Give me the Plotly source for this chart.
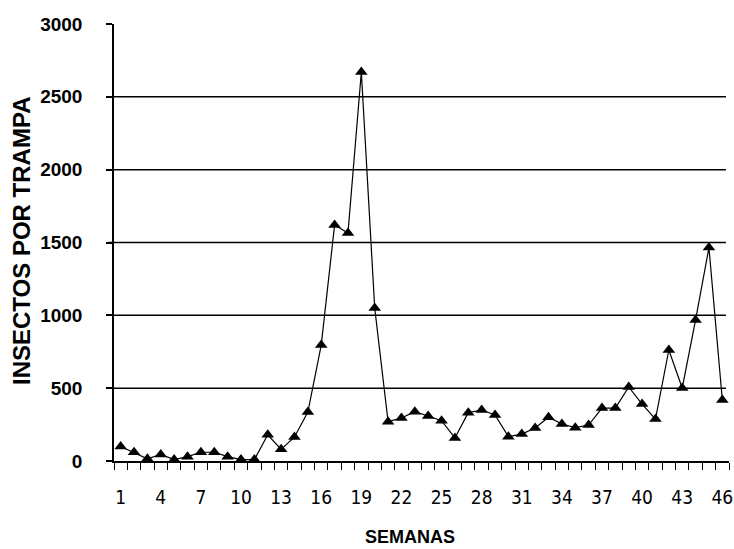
import plotly.graph_objects as go

semanas = list(range(1, 47))
insectos = [100, 60, 15, 45, 10, 30, 60, 60, 30, 10,
            10, 180, 80, 165, 336, 796, 1620, 1565, 2670, 1050,
            270, 295, 338, 309, 277, 158, 332, 350, 316, 167,
            185, 226, 300, 254, 229, 247, 363, 363, 508, 391,
            288, 762, 501, 968, 1465, 419]
x_ticks = list(range(1, 47, 3))
y_ticks = [0, 500, 1000, 1500, 2000, 2500, 3000]
grid_vals = [500, 1000, 1500, 2000, 2500]

fig = go.Figure()
fig.add_trace(go.Scatter(
    x=semanas, y=insectos, mode="lines+markers",
    line=dict(color="black", width=1.2),
    marker=dict(symbol="triangle-up", size=11, color="black"),
    showlegend=False, cliponaxis=False,
))

for g in grid_vals:
    fig.add_shape(type="line", xref="paper", x0=-0.01, x1=0.995, yref="y", y0=g, y1=g,
                  line=dict(color="black", width=1.5), layer="below")

fig.update_layout(
    width=734, height=549,
    margin=dict(l=114, r=5, t=24, b=88, autoexpand=False),
    plot_bgcolor="white", paper_bgcolor="white",
    font=dict(family="Liberation Sans, Arial, sans-serif", color="black"),
    xaxis=dict(
        range=[0.5, 46.5], tickmode="array", tickvals=x_ticks,
        ticktext=[str(v) for v in x_ticks], ticks="", showgrid=False,
        showline=True, linecolor="black", linewidth=1.5, zeroline=False,
        tickfont=dict(family="Liberation Sans Narrow, Arial Narrow, DejaVu Sans Condensed, sans-serif", size=19),
        ticklabelstandoff=18, ticklabeloverflow="allow", automargin=False,
        minor=dict(ticks="outside", tick0=0.5, dtick=1, ticklen=7, tickcolor="black", tickwidth=1.2, showgrid=False),
    ),
    yaxis=dict(
        range=[0, 3000], tickmode="array", tickvals=y_ticks, ticks="outside", ticklen=6,
        tickcolor="black", tickwidth=1.5, showgrid=False, zeroline=False,
        showline=True, linecolor="black", linewidth=1.5,
        tickfont=dict(family="Liberation Sans, Arial, sans-serif", size=19, weight="bold"),
        ticklabelstandoff=20, ticklabeloverflow="allow", automargin=False,
    ),
    annotations=[
        dict(text="<b>INSECTOS POR TRAMPA</b>", xref="paper", yref="paper",
             x=(22 - 114) / 615, y=(461 - 241) / 437, textangle=-90,
             showarrow=False, xanchor="center", yanchor="middle",
             font=dict(size=24, family="Liberation Sans, Arial, sans-serif")),
        dict(text="<b>SEMANAS</b>", xref="paper", yref="paper",
             x=(410 - 114) / 615, y=(461 - 537) / 437,
             showarrow=False, xanchor="center", yanchor="middle",
             font=dict(size=18, family="Liberation Sans, Arial, sans-serif")),
    ],
)

fig.write_html("out.html", config={"displayModeBar": False},
               post_script="document.body.style.margin='0';")
